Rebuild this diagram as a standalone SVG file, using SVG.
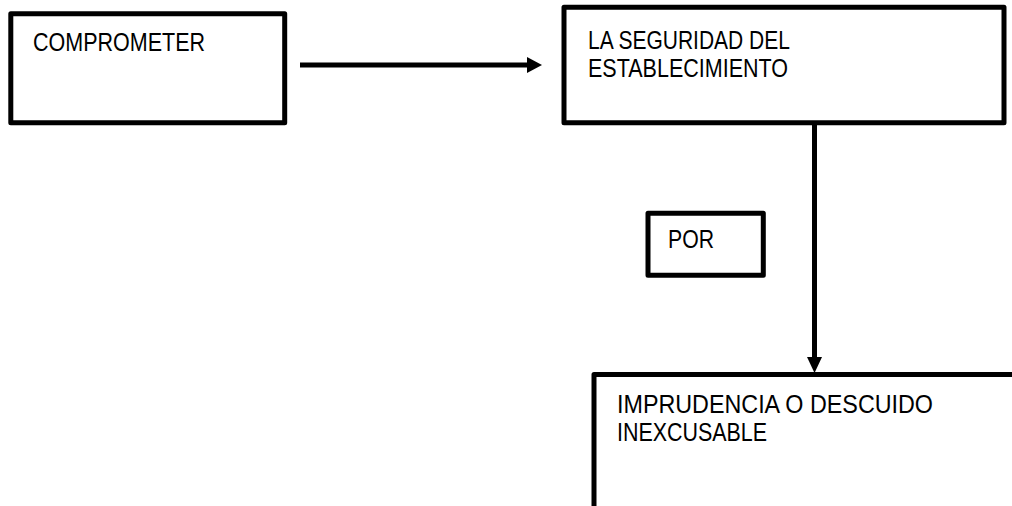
<svg xmlns="http://www.w3.org/2000/svg" width="1012" height="506" viewBox="0 0 1012 506">
<style>
.box{fill:none;stroke:#000;stroke-width:5;stroke-linejoin:round}
.lbl{font-family:"Liberation Sans",Arial,sans-serif;font-size:26px;fill:#000}
.conn{stroke:#000;stroke-width:5;fill:none}
</style>
<rect width="1012" height="506" fill="#fff"/>
<g id="node-comprometer">
<rect class="box" x="10.8" y="13.8" width="273.9" height="108.9"/>
<text class="lbl" x="33" y="51" textLength="172" lengthAdjust="spacingAndGlyphs">COMPROMETER</text>
</g>
<g id="node-seguridad">
<rect class="box" x="564" y="7.2" width="440" height="115.5"/>
<text class="lbl" x="588" y="49" textLength="202" lengthAdjust="spacingAndGlyphs">LA SEGURIDAD DEL</text>
<text class="lbl" x="588" y="77" textLength="200" lengthAdjust="spacingAndGlyphs">ESTABLECIMIENTO</text>
</g>
<g id="node-por">
<rect class="box" x="648" y="213.3" width="115.3" height="62"/>
<text class="lbl" x="668" y="248" textLength="46" lengthAdjust="spacingAndGlyphs">POR</text>
</g>
<g id="node-imprudencia">
<path class="box" d="M594 515 V374.5 H1020"/>
<text class="lbl" x="617" y="413" textLength="316" lengthAdjust="spacingAndGlyphs">IMPRUDENCIA O DESCUIDO</text>
<text class="lbl" x="617" y="441" textLength="150" lengthAdjust="spacingAndGlyphs">INEXCUSABLE</text>
</g>
<g id="connectors">
<line class="conn" x1="300" y1="65" x2="528" y2="65"/>
<polygon points="527,57 542,65 527,73" fill="#000"/>
<line class="conn" x1="814.5" y1="122" x2="814.5" y2="358"/>
<polygon points="807,357 822,357 814.5,373" fill="#000"/>
</g>
</svg>
